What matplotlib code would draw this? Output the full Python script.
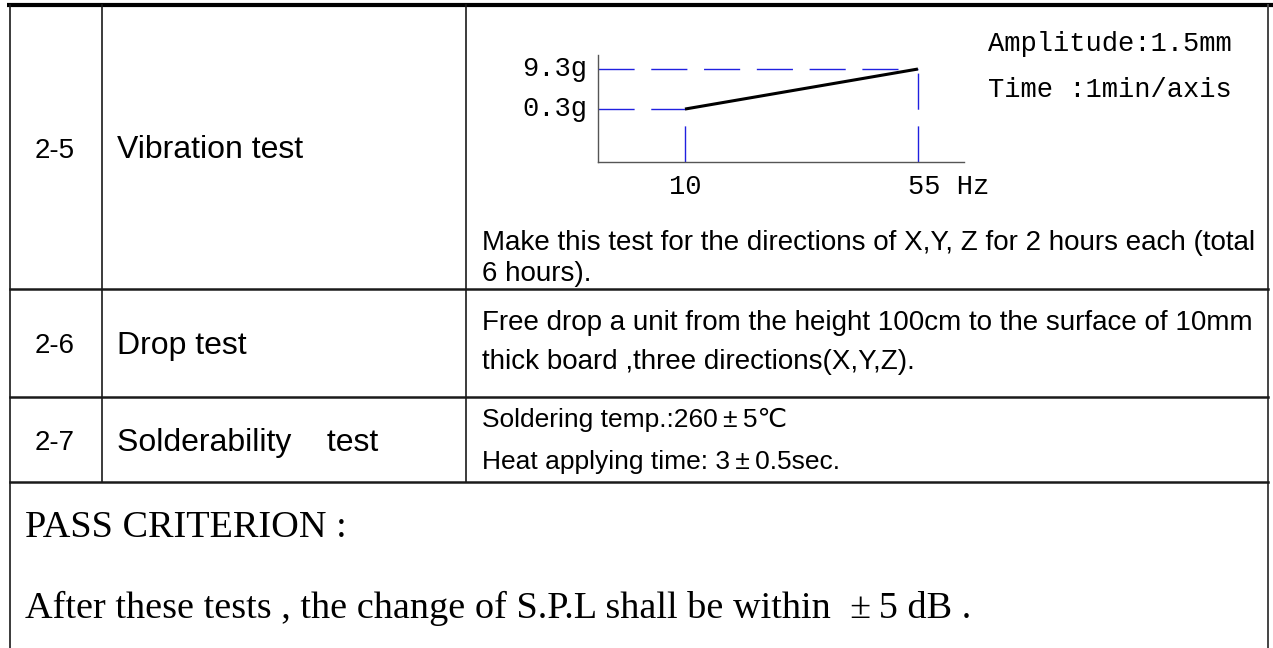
import matplotlib
matplotlib.use("Agg")
import matplotlib.pyplot as plt

# table content
item_no = ["2-5", "2-6", "2-7"]
item_name = ["Vibration test", "Drop test", "Solderability    test"]
vib_note = ["Make this test for the directions of X,Y, Z for 2 hours each (total",
            "6 hours)."]
drop_text = ["Free drop a unit from the height 100cm to the surface of 10mm",
             "thick board ,three directions(X,Y,Z)."]
solder_text = ["Soldering temp.:260\u2009\u00b1\u20095\u2103",
               "Heat applying time: 3\u2009\u00b1\u20090.5sec."]
pass_title = "PASS CRITERION :"
pass_text = "After these tests , the change of S.P.L shall be within  \u00b1\u20095 dB ."

# vibration sweep sketch
freq_hz = [10, 55]
accel_g = [0.3, 9.3]
freq_labels = ["10", "55 Hz"]
accel_labels = ["0.3g", "9.3g"]
vib_cond = ["Amplitude:1.5mm", "Time :1min/axis"]

W, H = 1273, 648
fig = plt.figure(figsize=(W / 100, H / 100), dpi=100)
ax = fig.add_axes([0, 0, 1, 1])
ax.set_xlim(0, W)
ax.set_ylim(H, 0)
ax.axis("off")

sans = ["Liberation Sans", "DejaVu Sans"]
serif = ["Liberation Serif", "DejaVu Serif"]
mono = ["Liberation Mono", "DejaVu Sans Mono"]

# grid lines
x_left, x_c1, x_c2, x_right = 10, 102, 466, 1268
row_y = [6, 289, 397, 482]
lc = "#1a1a1a"
ax.plot([7, W], [5, 5], color="black", lw=3.0, solid_capstyle="butt")
ax.plot([x_left, x_left], [5, H], color=lc, lw=1.2)
ax.plot([x_right, x_right], [5, H], color="#444444", lw=1.4)
for xc in (x_c1, x_c2):
    ax.plot([xc, xc], [5, row_y[-1]], color=lc, lw=1.2)
for yr in row_y[1:]:
    ax.plot([x_left, x_right], [yr, yr], color=lc, lw=1.8)

# left columns
for i in range(3):
    yc = (row_y[i] + row_y[i + 1]) / 2 + 3
    ax.text(55, yc, item_no[i], family=sans, fontsize=20, ha="center", va="center")
    ax.text(117, yc, item_name[i], family=sans, fontsize=23, ha="left", va="center")

# right column text
fs_r = 20
for y, s in zip([243, 274], vib_note):
    ax.text(482, y, s, family=sans, fontsize=fs_r, ha="left", va="center")
for y, s in zip([323, 362], drop_text):
    ax.text(482, y, s, family=sans, fontsize=fs_r, ha="left", va="center")
for y, s in zip([420, 462], solder_text):
    ax.text(482, y, s, family=sans + ["Noto Sans CJK SC"], fontsize=19, ha="left", va="center")

ax.text(25, 528, pass_title, family=serif, fontsize=27.5, ha="left", va="center")
ax.text(25, 608, pass_text, family=serif, fontsize=27.5, ha="left", va="center")

for y, s in zip([44, 90], vib_cond):
    ax.text(988, y, s, family=mono, fontsize=19.5, ha="left", va="center")

# sketch axes: spans pixel box x 598..964, y 55..162
cx0, cx1, cy0, cy1 = 598, 964, 55, 162
cax = fig.add_axes([cx0 / W, 1 - cy1 / H, (cx1 - cx0) / W, (cy1 - cy0) / H])
cax.patch.set_alpha(0)
xlo, xhi = -6.8, 63.9
ylo, yhi = -11.6, 12.45
cax.set_xlim(xlo, xhi)
cax.set_ylim(ylo, yhi)
for side in ("top", "right"):
    cax.spines[side].set_visible(False)
for side in ("left", "bottom"):
    cax.spines[side].set_color("#555555")
    cax.spines[side].set_linewidth(1.0)
cax.set_xticks([])
cax.set_yticks([])

blue = "#2020e0"
dash = (0, (26, 12))
cax.hlines(accel_g, xlo, freq_hz, colors=blue, lw=1.0, linestyles=[dash])
cax.vlines(freq_hz, ylo, accel_g, colors=blue, lw=1.0, linestyles=[dash])
cax.plot(freq_hz, accel_g, color="black", lw=2.2, solid_capstyle="butt")

for g, lab in zip(accel_g, accel_labels):
    cax.annotate(lab, (xlo, g), xytext=(-8, 0), textcoords="offset points",
                 family=mono, fontsize=19.5, ha="right", va="center",
                 annotation_clip=False)
cax.annotate(freq_labels[0], (freq_hz[0], ylo), xytext=(0, -18), textcoords="offset points",
             family=mono, fontsize=19.5, ha="center", va="center", annotation_clip=False)
cax.annotate(freq_labels[1], (freq_hz[1], ylo), xytext=(-7, -18), textcoords="offset points",
             family=mono, fontsize=19.5, ha="left", va="center", annotation_clip=False)

fig.savefig("out.png", dpi=100)
